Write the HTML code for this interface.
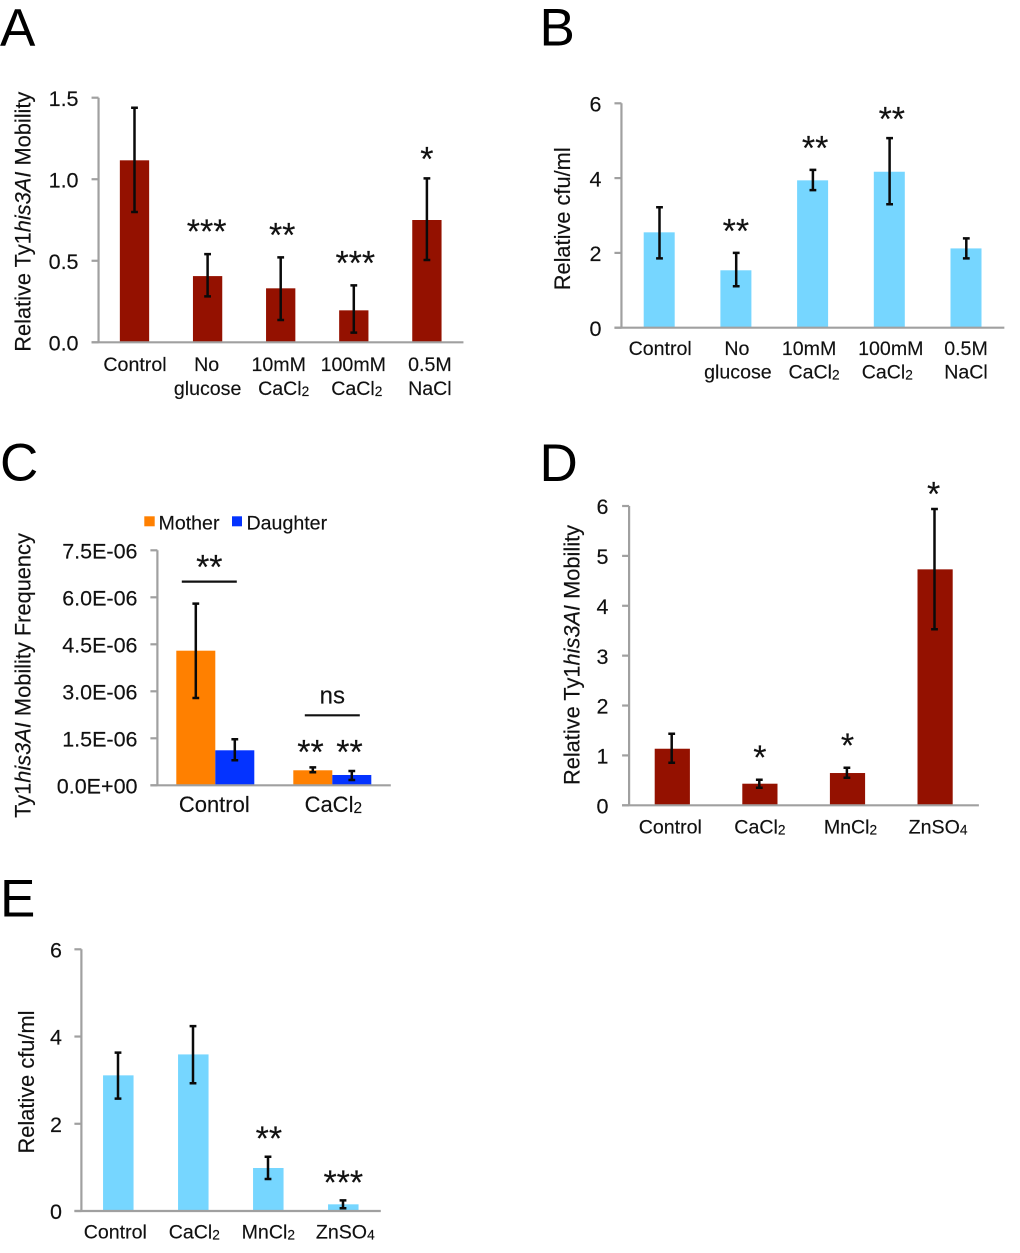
<!DOCTYPE html>
<html lang="en">
<head>
<meta charset="utf-8">
<title>Ty1his3AI mobility charts</title>
<style>
  html, body { margin: 0; padding: 0; background: #ffffff; }
  #figure { display: block; width: 1020px; height: 1253px; filter: blur(0.35px); }
  text { font-family: "Liberation Sans", Arial, sans-serif; fill: #111111; stroke: #111111; stroke-width: 0.15px; }
  .panel-letter { font-size: 53px; fill: #000000; stroke: none; }
  .axis-title { font-size: 21.8px; }
</style>
</head>
<body>
<svg id="figure" xmlns="http://www.w3.org/2000/svg" width="1020" height="1253" viewBox="0 0 1020 1253">
  <rect x="0" y="0" width="1020" height="1253" fill="#ffffff"/>

  <text class="panel-letter" x="0" y="45.7">A</text>
  <text class="panel-letter" x="539.5" y="45.7">B</text>
  <text class="panel-letter" x="0" y="480.5">C</text>
  <text class="panel-letter" x="539.5" y="481">D</text>
  <text class="panel-letter" x="0" y="916.7">E</text>

  <text class="axis-title" text-anchor="middle" transform="translate(30.7,221.7) rotate(-90)">Relative Ty1<tspan font-style="italic">his3AI</tspan> Mobility</text>
  <text class="axis-title" text-anchor="middle" transform="translate(570,218.8) rotate(-90)">Relative cfu/ml</text>
  <text class="axis-title" text-anchor="middle" transform="translate(30.7,675.5) rotate(-90)">Ty1<tspan font-style="italic">his3AI</tspan> Mobility Frequency</text>
  <text class="axis-title" text-anchor="middle" transform="translate(579.3,655) rotate(-90)">Relative Ty1<tspan font-style="italic">his3AI</tspan> Mobility</text>
  <text class="axis-title" text-anchor="middle" transform="translate(34,1082) rotate(-90)">Relative cfu/ml</text>

  <g>
    <g>
      <rect x="144.3" y="516.3" width="10.4" height="10" fill="#ff8000"/>
      <text x="158.5" y="529.7" font-size="19.6">Mother</text>
    </g>
    <g>
      <rect x="232" y="516.3" width="10" height="10" fill="#0433ff"/>
      <text x="246.5" y="529.7" font-size="19.6">Daughter</text>
    </g>
  </g>

  <g id="charts"></g>
</svg>

<script>
/* ---------- Panel A data ---------- */
const categoriesA = ['Control', 'No|glucose', '10mM|CaCl2', '100mM|CaCl2', '0.5M|NaCl'];
const valuesA = [1.116, 0.406, 0.331, 0.196, 0.75];
const errHighA = [1.438, 0.541, 0.521, 0.349, 1.005];
const errLowA = [0.799, 0.282, 0.137, 0.059, 0.505];
const starsA = ['', '***', '**', '***', '*'];
const tickLabelsA = ['0.0', '0.5', '1.0', '1.5'];

/* ---------- Panel B data ---------- */
const categoriesB = ['Control', 'No|glucose', '10mM|CaCl2', '100mM|CaCl2', '0.5M|NaCl'];
const valuesB = [2.55, 1.535, 3.94, 4.17, 2.12];
const errHighB = [3.22, 2.0, 4.22, 5.07, 2.39];
const errLowB = [1.855, 1.107, 3.68, 3.3, 1.855];
const starsB = ['', '**', '**', '**', ''];
const tickLabelsB = ['0', '2', '4', '6'];

/* ---------- Panel C data ---------- */
const categoriesC = ['Control', 'CaCl2'];
const seriesNamesC = ['Mother', 'Daughter'];
const motherValuesC = [4.296e-6, 0.479e-6];
const motherErrHighC = [5.8e-6, 0.574e-6];
const motherErrLowC = [2.786e-6, 0.415e-6];
const daughterValuesC = [1.117e-6, 0.329e-6];
const daughterErrHighC = [1.468e-6, 0.456e-6];
const daughterErrLowC = [0.798e-6, 0.169e-6];
const motherStarsC = ['', '**'];
const daughterStarsC = ['', '**'];
const bracketLabelsC = ['**', 'ns'];
const bracketLevelsC = [6.5e-6, 2.234e-6];
const tickLabelsC = ['0.0E+00', '1.5E-06', '3.0E-06', '4.5E-06', '6.0E-06', '7.5E-06'];

/* ---------- Panel D data ---------- */
const categoriesD = ['Control', 'CaCl2', 'MnCl2', 'ZnSO4'];
const valuesD = [1.134, 0.433, 0.647, 4.73];
const errHighD = [1.435, 0.513, 0.754, 5.94];
const errLowD = [0.854, 0.353, 0.553, 3.53];
const starsD = ['', '*', '*', '*'];
const tickLabelsD = ['0', '1', '2', '3', '4', '5', '6'];

/* ---------- Panel E data ---------- */
const categoriesE = ['Control', 'CaCl2', 'MnCl2', 'ZnSO4'];
const valuesE = [3.11, 3.59, 0.986, 0.153];
const errHighE = [3.63, 4.24, 1.245, 0.245];
const errLowE = [2.575, 2.93, 0.734, 0.062];
const starsE = ['', '', '**', '***'];
const tickLabelsE = ['0', '2', '4', '6'];

/* ---------- Layout (pixels, kept apart from the data) ---------- */
const layoutA = { id: 'a', left: 97.95, step: 73.1, top: 97.7, bottom: 342.3, barW: 29.3, color: '#941100', tickRight: 78.5, catSize: 19.6, lineBase: [371, 395], errDx: 0, starGap: 25.5,
  labelDx: [[0.5], [-1, 0], [-2, 3], [-0.5, 3], [3, 3]], starDx: [0, -1, 1.5, 1.5, 0], starDy: [0, 0, 0, 0, 3] };
const layoutB = { id: 'b', left: 620.85, step: 76.7, top: 103.3, bottom: 327.7, barW: 31, color: '#76d6ff', tickRight: 601.5, catSize: 19.6, lineBase: [355, 378.7], errDx: 0.3, starGap: 25,
  labelDx: [[1], [1, 2], [-3.5, 1.5], [1.5, -2], [0, 0]], starDx: [0, 0, 2.5, 2.5, 0], starDy: [0, 0, 0, 3, 0] };
const layoutC = { id: 'c', left: 156.8, step: 117, top: 550.3, bottom: 785.3, barW: 39, tickRight: 137.5, catSize: 22, lineBase: [812], starGap: 20,
  labelDx: [[-1], [1]], starDx: [0, -2.3], starDy: [0, 0] };
const layoutD = { id: 'd', left: 628.5, step: 87.6, top: 506, bottom: 805.3, barW: 35.2, color: '#941100', tickRight: 608.5, catSize: 19.6, lineBase: [833.3], errDx: -0.6, starGap: 25,
  labelDx: [[-2], [0], [3], [3]], starDx: [0, 0, 0, -1.5], starDy: [0, 0, 0, 7] };
const layoutE = { id: 'e', left: 80.8, step: 75, top: 949.3, bottom: 1211, barW: 30.5, color: '#76d6ff', tickRight: 62, catSize: 19.6, lineBase: [1238.3], errDx: -0.3, starGap: 21,
  labelDx: [[-3], [1], [0], [2]], starDx: [0, 0, 0.6, 0], starDy: [0, 0, 0, 0] };

const SVG_NS = 'http://www.w3.org/2000/svg';
const AXIS_COLOR = '#a0a0a0';
const TICK_LEN = 7;
const root = document.getElementById('charts');

function svgEl(tag, attrs, parent) {
  const el = document.createElementNS(SVG_NS, tag);
  Object.keys(attrs).forEach(function (k) { el.setAttribute(k, attrs[k]); });
  parent.appendChild(el);
  return el;
}

function slug(s) {
  return s.toLowerCase().replace(/[^a-z0-9]+/g, '-').replace(/^-|-$/g, '');
}

function yScale(layout, maxValue) {
  return function (v) {
    return layout.bottom - (v / maxValue) * (layout.bottom - layout.top);
  };
}

function xCenter(layout, i) {
  return layout.left + layout.step * (i + 0.5);
}

function drawAxes(layout, tickLabels, count, g, y) {
  const axisX = layout.left + 0.6;
  const right = layout.left + layout.step * count;

  const yAxis = svgEl('line', { x1: axisX, x2: axisX, y1: layout.top, y2: layout.bottom, stroke: AXIS_COLOR, 'stroke-width': 2.2 }, g);
  
  

  const xAxis = svgEl('line', { x1: axisX - TICK_LEN, x2: right, y1: layout.bottom, y2: layout.bottom, stroke: AXIS_COLOR, 'stroke-width': 2.2 }, g);
  
  

  tickLabels.forEach(function (label) {
    const value = parseFloat(label);
    const tick = svgEl('line', { x1: axisX - TICK_LEN, x2: axisX, y1: y(value), y2: y(value), stroke: AXIS_COLOR, 'stroke-width': 2.2 }, g);
    
    

    const text = svgEl('text', { x: layout.tickRight, y: y(value) + 8.2, 'text-anchor': 'end', 'font-size': 21.5 }, g);
    text.textContent = label;
    
    
  });
}

function appendChemical(textEl, line, size) {
  const parts = line.match(/^(CaCl|MnCl|ZnSO)(\d)$/);
  if (!parts) {
    textEl.textContent = line;
    return;
  }
  const main = svgEl('tspan', {}, textEl);
  main.textContent = parts[1];
  const sub = svgEl('tspan', { 'font-size': size * 0.7, dy: 1 }, textEl);
  sub.textContent = parts[2];
}

function drawCategories(layout, categories, g) {
  categories.forEach(function (category, i) {
    category.split('|').forEach(function (line, j) {
      const text = svgEl('text', {
        x: xCenter(layout, i) + layout.labelDx[i][j],
        y: layout.lineBase[j],
        'text-anchor': 'middle',
        'font-size': layout.catSize
      }, g);
      appendChemical(text, line, layout.catSize);
      
      
    });
  });
}

function drawBar(x, width, topY, bottomY, color, g, name) {
  const bar = svgEl('rect', { x: x, y: topY, width: width, height: bottomY - topY, fill: color }, g);
  
  
}

function drawError(x, highY, lowY, g, name) {
  const err = svgEl('path', {
    d: 'M' + (x - 3.4) + ' ' + highY + 'H' + (x + 3.4) + 'M' + x + ' ' + highY + 'V' + lowY + 'M' + (x - 3.4) + ' ' + lowY + 'H' + (x + 3.4),
    fill: 'none', stroke: '#0a0a0a', 'stroke-width': 2.5
  }, g);
  
  
}

function drawStars(label, x, centerY, g, name) {
  const star = svgEl('text', { x: x, y: centerY + 14.5, 'text-anchor': 'middle', 'font-size': 34, fill: '#000000' }, g);
  star.textContent = label;
  
  
}

function drawSimpleChart(layout, categories, values, errHigh, errLow, stars, tickLabels) {
  const g = svgEl('g', {}, root);
  
  

  const maxValue = parseFloat(tickLabels[tickLabels.length - 1]);
  const y = yScale(layout, maxValue);

  values.forEach(function (v, i) {
    const cx = xCenter(layout, i);
    const key = layout.id + '-' + slug(categories[i]);
    drawBar(cx - layout.barW / 2, layout.barW, y(v), layout.bottom, layout.color, g, 'bar-' + key);
  });
  drawAxes(layout, tickLabels, categories.length, g, y);
  values.forEach(function (v, i) {
    const cx = xCenter(layout, i);
    const key = layout.id + '-' + slug(categories[i]);
    drawError(cx + layout.errDx, y(errHigh[i]), y(errLow[i]), g, 'error-bar-' + key);
    if (stars[i]) {
      drawStars(stars[i], cx + layout.starDx[i], y(errHigh[i]) - layout.starGap + layout.starDy[i], g, 'significance-' + key);
    }
  });
  drawCategories(layout, categories, g);
}

function drawGroupedChart(layout) {
  const g = svgEl('g', {}, root);
  
  

  const maxValue = parseFloat(tickLabelsC[tickLabelsC.length - 1]);
  const y = yScale(layout, maxValue);
  const colors = ['#ff8000', '#0433ff'];
  const seriesValues = [motherValuesC, daughterValuesC];
  const seriesHigh = [motherErrHighC, daughterErrHighC];
  const seriesLow = [motherErrLowC, daughterErrLowC];
  const seriesStars = [motherStarsC, daughterStarsC];

  seriesValues.forEach(function (vals, s) {
    vals.forEach(function (v, i) {
      const x = xCenter(layout, i) + (s - 1) * layout.barW;
      drawBar(x, layout.barW, y(v), layout.bottom, colors[s], g, 'bar-' + slug(seriesNamesC[s]) + '-' + slug(categoriesC[i]));
    });
  });
  drawAxes(layout, tickLabelsC, categoriesC.length, g, y);

  seriesValues.forEach(function (vals, s) {
    vals.forEach(function (v, i) {
      const cx = xCenter(layout, i) + (s - 0.5) * layout.barW;
      const key = slug(seriesNamesC[s]) + '-' + slug(categoriesC[i]);
      drawError(cx, y(seriesHigh[s][i]), y(seriesLow[s][i]), g, 'error-bar-' + key);
      if (seriesStars[s][i]) {
        const gap = s === 0 ? 18.3 : 22;
        drawStars(seriesStars[s][i], cx + layout.starDx[i], y(seriesHigh[s][i]) - gap, g, 'significance-' + key);
      }
    });
  });

  bracketLabelsC.forEach(function (label, i) {
    const cx = xCenter(layout, i) + (i === 0 ? -6 : 0);
    const level = y(bracketLevelsC[i]);
    const bracket = svgEl('line', { x1: cx - 27.5, x2: cx + 27.5, y1: level, y2: level, stroke: '#111111', 'stroke-width': 2.2 }, g);
    
    
    if (label === 'ns') {
      const ns = svgEl('text', { x: cx, y: level - 12, 'text-anchor': 'middle', 'font-size': 24 }, g);
      ns.textContent = label;
      
      
    } else {
      drawStars(label, cx, level - 17.4, g, 'bracket-label-' + slug(categoriesC[i]));
    }
  });

  drawCategories(layout, categoriesC, g);
}

drawSimpleChart(layoutA, categoriesA, valuesA, errHighA, errLowA, starsA, tickLabelsA);
drawSimpleChart(layoutB, categoriesB, valuesB, errHighB, errLowB, starsB, tickLabelsB);
drawGroupedChart(layoutC);
drawSimpleChart(layoutD, categoriesD, valuesD, errHighD, errLowD, starsD, tickLabelsD);
drawSimpleChart(layoutE, categoriesE, valuesE, errHighE, errLowE, starsE, tickLabelsE);
</script>
</body>
</html>
